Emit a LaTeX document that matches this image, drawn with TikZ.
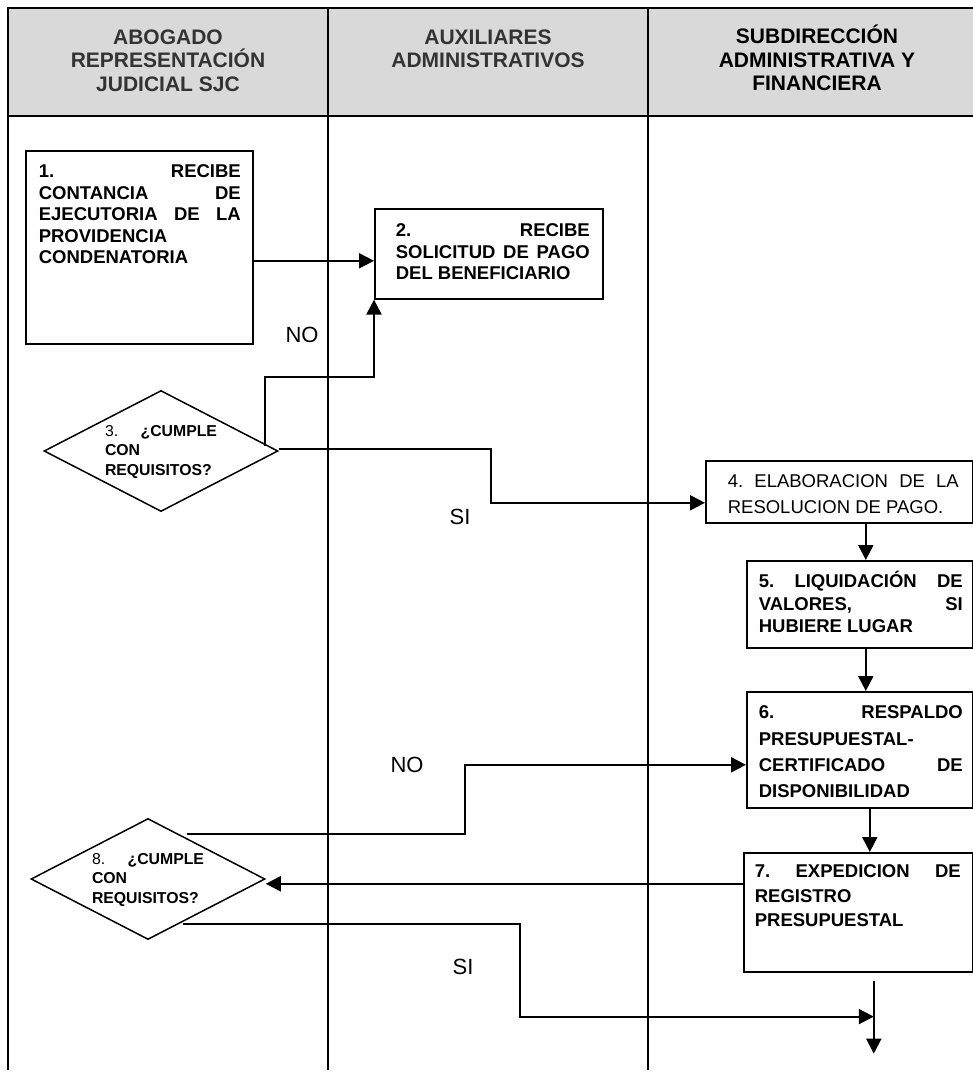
\documentclass[tikz,border=0pt]{standalone}
\usepackage{fontspec}
\setmainfont{Liberation Sans}
\usetikzlibrary{arrows.meta,shapes.geometric}
\definecolor{hdr}{RGB}{217,217,217}
\definecolor{hdrtxt}{RGB}{51,51,51}
\newcommand\bxt[5]{\parbox[c][#1][t]{#2}{\leftskip=#3\relax\rightskip=#4\relax #5}}
\tikzset{
  tbl/.style={line width=2pt},
  pbox/.style={draw, line width=1.6pt, rectangle, inner sep=0pt, anchor=north west,
    font=\fontsize{18.5}{21.5}\selectfont\bfseries},
  dia/.style={draw, diamond, aspect=1.93, minimum width=234pt, minimum height=121pt,
    inner sep=0pt, line width=1.5pt, font=\fontsize{15.8}{19.5}\selectfont},
  hd/.style={anchor=north, inner sep=0pt, align=center,
    font=\fontsize{21}{23.5}\selectfont\bfseries},
  arr/.style={line width=2pt, -{Triangle[length=15pt,width=15pt]}},
  lbl/.style={inner sep=0pt, font=\fontsize{22}{24}\selectfont}
}
\begin{document}
\begin{tikzpicture}[x=1pt,y=-1pt]
\useasboundingbox (0,0) rectangle (973,1081);
% table
\fill[hdr] (8,8) rectangle (990,116);
\draw[tbl] (990,8) -- (8,8) -- (8,1070);
\draw[tbl] (8,116) -- (990,116);
\draw[tbl] (328,8) -- (328,1070);
\draw[tbl] (648,8) -- (648,1070);
% headers
\node[hd, text=hdrtxt] (h1) at (168,24) {\rule{0pt}{20pt}ABOGADO\\REPRESENTACIÓN\\JUDICIAL SJC};
\node[hd, text=hdrtxt] (h2) at (488,24) {\rule{0pt}{20pt}AUXILIARES\\ADMINISTRATIVOS};
\node[hd] (h3) at (817,24) {\rule{0pt}{19.3pt}SUBDIRECCIÓN\\ADMINISTRATIVA Y\\FINANCIERA};
% boxes
\node[pbox, minimum width=227pt, minimum height=193pt] (b1) at (25,150)
  {\bxt{193pt}{227pt}{13pt}{12pt}{\rule{0pt}{26.7pt}1.\hfill RECIBE\\CONTANCIA\hfill DE\\EJECUTORIA\hfill DE\hfill LA\\PROVIDENCIA\\CONDENATORIA}};
\node[pbox, minimum width=228pt, minimum height=90pt] (b2) at (374,208)
  {\bxt{90pt}{228pt}{21pt}{13pt}{\rule{0pt}{28pt}2.\hfill RECIBE\\SOLICITUD\hfill DE\hfill PAGO\\DEL BENEFICIARIO}};
\node[pbox, minimum width=267pt, minimum height=62pt, font=\fontsize{18.5}{26}\selectfont] (b4) at (705,460)
  {\bxt{62pt}{267pt}{22pt}{14pt}{\rule{0pt}{27pt}4.\hfill ELABORACION\hfill DE\hfill LA\\RESOLUCION DE PAGO.}};
\node[pbox, minimum width=226pt, minimum height=87pt, font=\fontsize{18.5}{22.5}\selectfont\bfseries] (b5) at (746,560)
  {\bxt{87pt}{226pt}{12pt}{10pt}{\rule{0pt}{26.7pt}5.\hfill LIQUIDACIÓN\hfill DE\\VALORES,\hfill SI\\HUBIERE LUGAR}};
\node[pbox, minimum width=226pt, minimum height=116pt, font=\fontsize{18.5}{26.3}\selectfont\bfseries] (b6) at (746,691)
  {\bxt{116pt}{226pt}{12pt}{10pt}{\rule{0pt}{27pt}6.\hfill RESPALDO\\PRESUPUESTAL-\\CERTIFICADO\hfill DE\\DISPONIBILIDAD}};
\node[pbox, minimum width=229pt, minimum height=119pt, font=\fontsize{18.5}{24.3}\selectfont\bfseries] (b7) at (743,852)
  {\bxt{119pt}{229pt}{11pt}{12pt}{\rule{0pt}{25pt}7.\hfill EXPEDICION\hfill DE\\REGISTRO\\PRESUPUESTAL}};
% diamonds
\node[dia] (d3) at (161,451) {\parbox{112pt}{\rule{0pt}{12.5pt}3.\hfill\textbf{¿CUMPLE}\\\textbf{CON}\\\textbf{REQUISITOS?}}};
\node[dia] (d8) at (148,879) {\parbox{112pt}{\rule{0pt}{12.5pt}8.\hfill\textbf{¿CUMPLE}\\\textbf{CON}\\\textbf{REQUISITOS?}}};
% labels
\node[lbl] (no1) at (302,335) {NO};
\node[lbl] (si1) at (460,517) {SI};
\node[lbl] (no2) at (407,765) {NO};
\node[lbl] (si2) at (463,967) {SI};
% connectors
\draw[arr] ([yshift=-13.5pt]b1.east) -- ([yshift=-7pt]b2.west);
\coordinate (s3) at ([xshift=-14pt,yshift=5pt]d3.east);
\draw[arr] (s3) |- ([yshift=-77pt]b2.south west) -- (b2.south west);
\draw[arr] ([yshift=2pt]d3.east) -- ++(212,0) |- ([yshift=-11pt]b4.west);
\coordinate (t5) at ([xshift=6pt]b5.north);
\draw[arr] (t5 |- b4.south) -- (t5);
\coordinate (t6) at ([xshift=6pt]b6.north);
\draw[arr] (t6 |- b5.south) -- (t6);
\coordinate (t7) at ([xshift=11.5pt]b7.north);
\draw[arr] (t7 |- b6.south) -- (t7);
\coordinate (s8) at ([xshift=39pt,yshift=-16pt]d8.north);
\draw[arr] (s8) -- ++(278,0) |- ([yshift=-15pt]b6.west);
\coordinate (w7) at ([yshift=28.5pt]b7.west);
\draw[arr] (w7) -- (w7 -| d8.east);
\coordinate (v7) at ([xshift=15.5pt,yshift=-8pt]b7.south);
\coordinate (vj) at ([yshift=-36pt]v7);
\coordinate (ve) at ([yshift=-73pt]v7);
\draw[arr] (v7) -- (ve);
\coordinate (s8b) at ([xshift=35pt,yshift=16pt]d8.south);
\draw[arr] (s8b) -- ++(337,0) |- (vj);
\end{tikzpicture}
\end{document}
